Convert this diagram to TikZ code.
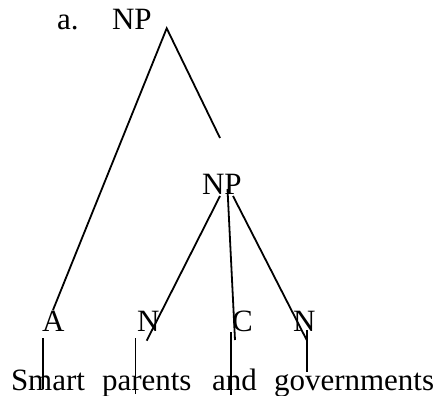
\documentclass[tikz,border=0pt]{standalone}
\usepackage{fontspec}
\setmainfont{Liberation Serif}
\begin{document}
\begin{tikzpicture}[x=1pt,y=-1pt,
  every node/.style={inner sep=0pt, outer sep=0pt, font=\fontsize{31}{36}\selectfont},
  lbl/.style={anchor=base west},
  branch/.style={line width=1.8pt, line cap=butt}]
\useasboundingbox (0,0) rectangle (442,396);
% labels
\node[lbl] (a) at (57,30) {a.};
\node[lbl] (np1) at (112,30) {NP};
\node[lbl] (np2) at (202,194) {NP};
\node[lbl] (A) at (42,331) {A};
\node[lbl] (N1) at (137,331) {N};
\node[lbl] (C) at (232,331) {C};
\node[lbl] (N2) at (293,331) {N};
\node[lbl] (w1) at (11,390) {Smart};
\node[lbl] (w2) at (102,390) {parents};
\node[lbl] (w3) at (212,390) {and};
\node[lbl] (w4) at (274,390) {governments};
% branch end points
\coordinate (apex) at (166.7,28.3);
\coordinate (topL) at (53,310);
\coordinate (topR) at (220,138);
\coordinate (s1) at (220,196);
\coordinate (e1) at (146.7,340.7);
\coordinate (s2) at (227.5,189);
\coordinate (e2) at (235,340);
\coordinate (s3) at (233,196);
\coordinate (e3) at (306.7,340);
\coordinate (vA1) at (43.3,338);  \coordinate (vA2) at (43.3,389);
\coordinate (vB1) at (135.5,338); \coordinate (vB2) at (135.5,394);
\coordinate (vC1) at (230.7,332); \coordinate (vC2) at (230.7,395);
\coordinate (vD1) at (307.3,330); \coordinate (vD2) at (307.3,372);
% branches
\draw[branch] (topL) -- (apex) -- (topR);
\draw[branch] (s1) -- (e1);
\draw[branch] (s2) -- (e2);
\draw[branch] (s3) -- (e3);
\draw[branch] (vA1) -- (vA2);
\draw[branch] (vB1) -- (vB2);
\draw[branch] (vC1) -- (vC2);
\draw[branch] (vD1) -- (vD2);
\end{tikzpicture}
\end{document}
